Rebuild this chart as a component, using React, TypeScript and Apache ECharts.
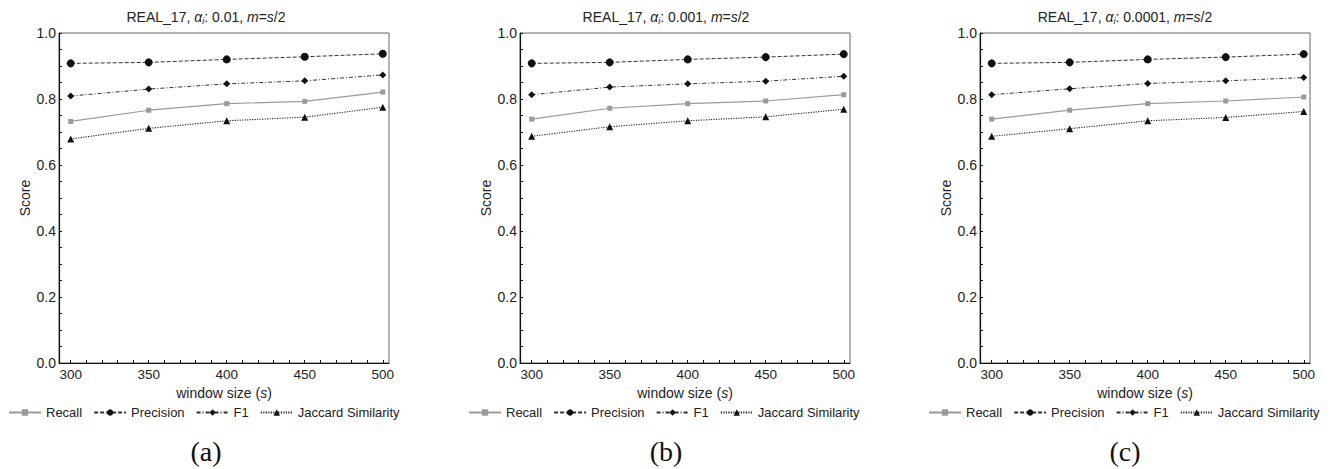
import React, { useEffect, useRef } from "react";
import * as echarts from "echarts";

// ---------- data ----------
const windowSizes = [300, 350, 400, 450, 500];
const metricNames = ["Recall", "Precision", "F1", "Jaccard Similarity"];
const alphaValues = ["0.01", "0.001", "0.0001"];
const panelLabels = ["(a)", "(b)", "(c)"];

const recallA = [0.732, 0.766, 0.786, 0.793, 0.821];
const precisionA = [0.908, 0.911, 0.92, 0.928, 0.937];
const f1A = [0.809, 0.83, 0.846, 0.855, 0.873];
const jaccardA = [0.679, 0.711, 0.734, 0.745, 0.775];

const recallB = [0.739, 0.772, 0.786, 0.794, 0.813];
const precisionB = [0.908, 0.911, 0.92, 0.927, 0.936];
const f1B = [0.813, 0.836, 0.846, 0.854, 0.869];
const jaccardB = [0.687, 0.716, 0.734, 0.746, 0.769];

const recallC = [0.739, 0.766, 0.786, 0.794, 0.806];
const precisionC = [0.908, 0.911, 0.92, 0.927, 0.936];
const f1C = [0.813, 0.831, 0.847, 0.855, 0.865];
const jaccardC = [0.687, 0.71, 0.734, 0.744, 0.762];

const xLabelValues = [300, 350, 400, 450, 500];
const xTickValues = [
  300, 310, 320, 330, 340, 350, 360, 370, 380, 390, 400, 410, 420, 430, 440,
  450, 460, 470, 480, 490, 500,
];
const yLabelValues = [0, 0.2, 0.4, 0.6, 0.8, 1.0];
const yTickValues = [
  0, 0.05, 0.1, 0.15, 0.2, 0.25, 0.3, 0.35, 0.4, 0.45, 0.5, 0.55, 0.6, 0.65,
  0.7, 0.75, 0.8, 0.85, 0.9, 0.95, 1.0,
];

const panelData = [
  [recallA, precisionA, f1A, jaccardA],
  [recallB, precisionB, f1B, jaccardB],
  [recallC, precisionC, f1C, jaccardC],
];

// ---------- styling ----------
const FONT = "'Liberation Sans', Arial, Helvetica, sans-serif";
const TEXT = "#222";
const gridLefts = [59, 520, 980];
const panelCenters = [206, 666, 1125];
const legendLefts = [8, 468, 928];

const metricStyles = [
  { symbol: "rect", size: 5, line: "#9a9a9a", mark: "#9a9a9a", type: "solid" as any, width: 1.2 },
  { symbol: "circle", size: 8, line: "#333", mark: "#111", type: [4, 2], width: 1 },
  { symbol: "diamond", size: 7, line: "#333", mark: "#111", type: [4, 2, 1, 2], width: 1 },
  { symbol: "triangle", size: 7, line: "#222", mark: "#111", type: [1.2, 1.3], width: 1.1 },
];

export default function App() {
  const ref = useRef<HTMLDivElement>(null);

  useEffect(() => {
    if (!ref.current) return;
    const chart = echarts.init(ref.current, undefined, { renderer: "svg" });

    const grids = gridLefts.map((left) => ({
      left,
      top: 33,
      width: 330,
      height: 330,
      show: true,
      borderColor: "#666",
      borderWidth: 1,
    }));

    const xAxes = gridLefts.map((_, i) => ({
      type: "value",
      gridIndex: i,
      min: 292.5,
      max: 504,
      axisLine: { show: true, onZero: false, lineStyle: { color: "#111", width: 1.2 } },
      axisTick: {
        show: true,
        inside: true,
        length: 3,
        customValues: xTickValues,
        lineStyle: { color: "#111", width: 1 },
      },
      axisLabel: {
        customValues: xLabelValues,
        fontSize: 13.5,
        fontFamily: FONT,
        color: TEXT,
        margin: 4,
      },
      splitLine: { show: false },
      name: "{n|window size (}{i|s}{n|)}",
      nameLocation: "middle",
      nameGap: 23,
      nameTextStyle: {
        rich: {
          n: { fontSize: 14, fontFamily: FONT, color: TEXT },
          i: { fontSize: 14, fontFamily: FONT, color: TEXT, fontStyle: "italic" },
        },
      },
    }));

    const yAxes = gridLefts.map((_, i) => ({
      type: "value",
      gridIndex: i,
      min: 0,
      max: 1,
      axisLine: { show: true, onZero: false, lineStyle: { color: "#111", width: 1.2 } },
      axisTick: {
        show: true,
        inside: true,
        length: 3,
        customValues: yTickValues,
        lineStyle: { color: "#111", width: 1 },
      },
      axisLabel: {
        customValues: yLabelValues,
        formatter: (v: number) => v.toFixed(1),
        fontSize: 14,
        fontFamily: FONT,
        color: TEXT,
        margin: 3,
      },
      splitLine: { show: false },
      name: "Score",
      nameLocation: "middle",
      nameGap: 27,
      nameTextStyle: { fontSize: 14, fontFamily: FONT, color: TEXT },
    }));

    const series: any[] = [];
    panelData.forEach((metrics, p) => {
      metrics.forEach((vals, m) => {
        const st = metricStyles[m];
        series.push({
          type: "line",
          name: metricNames[m],
          xAxisIndex: p,
          yAxisIndex: p,
          data: windowSizes.map((x, k) => [x, vals[k]]),
          symbol: st.symbol,
          symbolSize: st.size,
          showSymbol: true,
          lineStyle: { color: st.line, width: st.width, type: st.type },
          itemStyle: { color: st.mark },
          z: 3 + m,
        });
      });
    });

    const legends = legendLefts.map((left) => ({
      left,
      top: 406,
      padding: 0,
      itemWidth: 32,
      itemHeight: 8,
      itemGap: 11,
      data: metricNames,
      selectedMode: false,
      textStyle: { fontSize: 13, fontFamily: FONT, color: TEXT },
    }));

    const titleRich = {
      n: { fontSize: 14, fontFamily: FONT, fill: TEXT, lineHeight: 17 },
      g: { fontSize: 14, fontFamily: FONT, fill: TEXT, fontStyle: "italic", lineHeight: 17 },
      s: { fontSize: 9, fontFamily: FONT, fill: TEXT, fontStyle: "italic", lineHeight: 9, verticalAlign: "bottom" },
      i: { fontSize: 14, fontFamily: FONT, fill: TEXT, fontStyle: "italic", lineHeight: 17 },
    };

    const graphics: any[] = [];
    panelCenters.forEach((cx, p) => {
      graphics.push({
        type: "text",
        x: cx,
        y: 17,
        style: {
          text: `{n|REAL_17, }{g|α}{s|i}{n|: ${alphaValues[p]}, }{i|m}{n|=}{i|s}{n|/2}`,
          rich: titleRich,
          align: "center",
          verticalAlign: "middle",
          textAlign: "center",
          textVerticalAlign: "middle",
        },
      });
      graphics.push({
        type: "text",
        x: cx,
        y: 451,
        style: {
          text: panelLabels[p],
          fontSize: 28,
          lineHeight: 30,
          fontFamily: "'Liberation Serif', 'Times New Roman', serif",
          fill: "#111",
          align: "center",
          verticalAlign: "middle",
          textAlign: "center",
          textVerticalAlign: "middle",
        },
      });
    });

    chart.setOption({
      animation: false,
      backgroundColor: "#fff",
      grid: grids,
      xAxis: xAxes,
      yAxis: yAxes,
      legend: legends,
      series,
      graphic: graphics,
    });

    return () => chart.dispose();
  }, []);

  return (
    <div
      ref={ref}
      style={{ position: "fixed", left: 0, top: 0, width: 1336, height: 469 }}
    />
  );
}
